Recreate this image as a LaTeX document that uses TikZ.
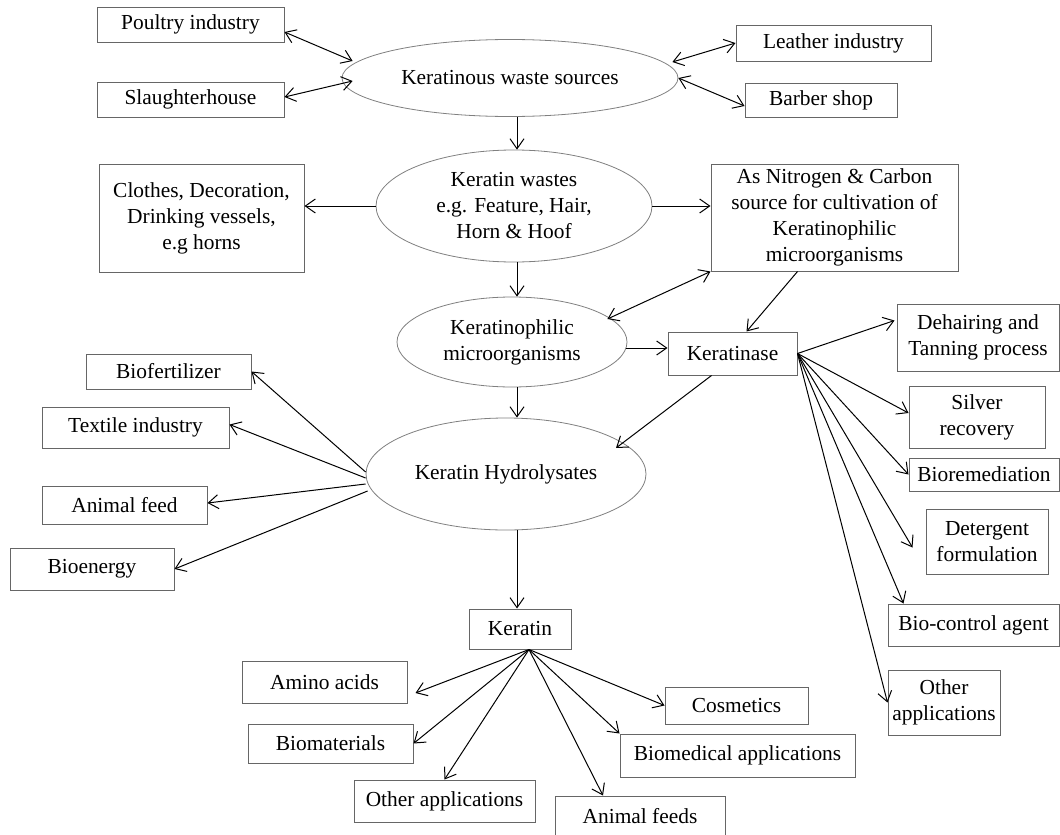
\documentclass[tikz,border=0pt]{standalone}
\usepackage{fontspec}
\setmainfont{Liberation Serif}
\usetikzlibrary{arrows.meta, shapes.geometric, calc}

\begin{document}
\begin{tikzpicture}[
  x=0.5pt, y=-0.5pt,
  >={Straight Barb[length=5pt,width=7pt]},
  every node/.style = {font=\fontsize{10.7}{13}\selectfont, align=center, inner sep=0pt},
  box/.style  = {rectangle, draw=black!60, line width=0.5pt},
  oval/.style = {ellipse, draw=black!50, line width=0.4pt},
  ln/.style   = {->, line width=0.5pt},
  dbl/.style  = {<->, line width=0.5pt}
]
  \path[use as bounding box, fill=white] (0,0) rectangle (1060,835);
  \coordinate (spine) at (517,0);

  \node[oval, minimum width=168pt, minimum height=38.5pt] (sources) at (510,78)
    {Keratinous waste sources};
  \node[box, minimum width=93.5pt, minimum height=17.5pt] (poultry) at (190.5,24.5)
    {Poultry industry};
  \node[box, minimum width=93.5pt, minimum height=17.5pt] (slaughter) at (190.5,99.5)
    {Slaughterhouse};
  \node[box, minimum width=97.5pt, minimum height=18pt] (leather) at (833.5,43)
    {Leather industry};
  \node[box, minimum width=76pt, minimum height=17pt] (barber) at (821,100)
    {Barber shop};

  \node[oval, minimum width=138pt, minimum height=56pt] (wastes) at (514,206)
    {Keratin wastes\\e.g. Feature, Hair,\\Horn \& Hoof};
  \node[box, minimum width=102.5pt, minimum height=54pt] (clothes) at (201.5,218)
    {Clothes, Decoration,\\Drinking vessels,\\e.g horns};
  \node[box, minimum width=123.5pt, minimum height=53.5pt] (nitro) at (834.5,217.5)
    {As Nitrogen \& Carbon\\source for cultivation of\\Keratinophilic\\microorganisms};

  \node[oval, minimum width=115pt, minimum height=45pt] (philic) at (512,342)
    {Keratinophilic\\microorganisms};
  \node[box, minimum width=64.5pt, minimum height=21.5pt] (kase) at (732.5,353.5)
    {Keratinase};

  \node[box, minimum width=81pt, minimum height=33.5pt] (dehair) at (978,337.5)
    {Dehairing and\\Tanning process};
  \node[box, minimum width=68pt, minimum height=31pt] (silver) at (977,417)
    {Silver\\recovery};
  \node[box, minimum width=75pt, minimum height=16.5pt] (biorem) at (984,474.5)
    {Bioremediation};
  \node[box, minimum width=61pt, minimum height=32.5pt] (deterg) at (987,541.5)
    {Detergent\\formulation};
  \node[box, minimum width=85.5pt, minimum height=21pt] (bioctl) at (973.5,625)
    {Bio-control agent};
  \node[box, minimum width=56pt, minimum height=32.5pt] (otherR) at (944,702.5)
    {Other\\applications};

  \node[oval, minimum width=140pt, minimum height=56pt] (hydro) at (506,474)
    {Keratin Hydrolysates};
  \node[box, minimum width=82.5pt, minimum height=17.5pt] (biofert) at (168.5,371.5)
    {Biofertilizer};
  \node[box, minimum width=93.5pt, minimum height=20.5pt] (textile) at (135.5,427.5)
    {Textile industry};
  \node[box, minimum width=82.5pt, minimum height=19pt] (afeed) at (124.5,505)
    {Animal feed};
  \node[box, minimum width=82pt, minimum height=21pt] (bioen) at (92,569)
    {Bioenergy};

  \node[box, minimum width=51pt, minimum height=20pt] (keratin) at (520,629)
    {Keratin};
  \node[box, minimum width=82.5pt, minimum height=21pt] (amino) at (324.5,682)
    {Amino acids};
  \node[box, minimum width=82.5pt, minimum height=19.5pt] (biomat) at (330.5,743.5)
    {Biomaterials};
  \node[box, minimum width=90.5pt, minimum height=21pt] (otherB) at (444.5,801)
    {Other applications};
  \node[box, minimum width=85pt, minimum height=20pt] (afeeds) at (640,816)
    {Animal feeds};
  \node[box, minimum width=71.5pt, minimum height=18.5pt] (cosm) at (736.5,705.5)
    {Cosmetics};
  \node[box, minimum width=117.5pt, minimum height=21.5pt] (biomed) at (737.5,755.5)
    {Biomedical applications};

  \draw[dbl] ($(poultry.east)+(0,7.5)$) -- ($(sources.west)+(11,-17)$);
  \draw[dbl] ($(slaughter.east)+(0,-2.5)$) -- ($(sources.west)+(11,3)$);
  \draw[dbl] ($(sources.east)+(-6,-16)$) -- (leather.west);
  \draw[dbl] (sources.east) -- ($(barber.west)+(0,6)$);
  \draw[ln] (sources.south -| spine) -- (wastes.north -| spine);

  \draw[ln] (wastes.west) -- (wastes.west -| clothes.east);
  \draw[ln] (wastes.east) -- (wastes.east -| nitro.west);
  \draw[ln] (wastes.south -| spine) -- (philic.north -| spine);
  \draw[dbl] ($(philic.east)+(-20,-23)$) -- (nitro.south west);
  \draw[ln] ($(nitro.south)+(-37,0)$) -- ($(kase.north)+(14,0)$);
  \draw[ln] ($(philic.east)+(-1,6)$) -- ($(kase.west)+(0,-5.5)$);

  \draw[ln] (kase.east) -- ($(dehair.west)+(-2,-17)$);
  \draw[ln] (kase.east) -- ($(silver.west)+(0,-4)$);
  \draw[ln] (kase.east) -- (biorem.west);
  \draw[ln] (kase.east) -- ($(deterg.west)+(-13,6)$);
  \draw[ln] (kase.east) -- ($(bioctl.north west)+(16,0)$);
  \draw[ln] (kase.east) -- (otherR.west);
  \draw[ln] ($(kase.south)+(-21,0)$) -- ($(hydro.center)+(110,-26)$);

  \draw[ln] (philic.south -| spine) -- (hydro.north -| spine);
  \draw[ln] ($(hydro.west)+(0,-2)$) -- (biofert.east);
  \draw[ln] ($(hydro.west)+(0,4)$) -- ($(textile.east)+(0,-3)$);
  \draw[ln] ($(hydro.west)+(0,10)$) -- ($(afeed.east)+(0,-2)$);
  \draw[ln] ($(hydro.west)+(2,17)$) -- (bioen.east);
  \draw[ln] (hydro.south -| spine) -- (keratin.north -| spine);

  \draw[ln] ($(keratin.south)+(9,0)$) -- ($(amino.east)+(8,11)$);
  \draw[ln] ($(keratin.south)+(9,0)$) -- (biomat.east);
  \draw[ln] ($(keratin.south)+(9,0)$) -- (otherB.north);
  \draw[ln] ($(keratin.south)+(9,0)$) -- ($(afeeds.north)+(-37,0)$);
  \draw[ln] ($(keratin.south)+(9,0)$) -- (biomed.north west);
  \draw[ln] ($(keratin.south)+(9,0)$) -- (cosm.west);
\end{tikzpicture}
\end{document}
